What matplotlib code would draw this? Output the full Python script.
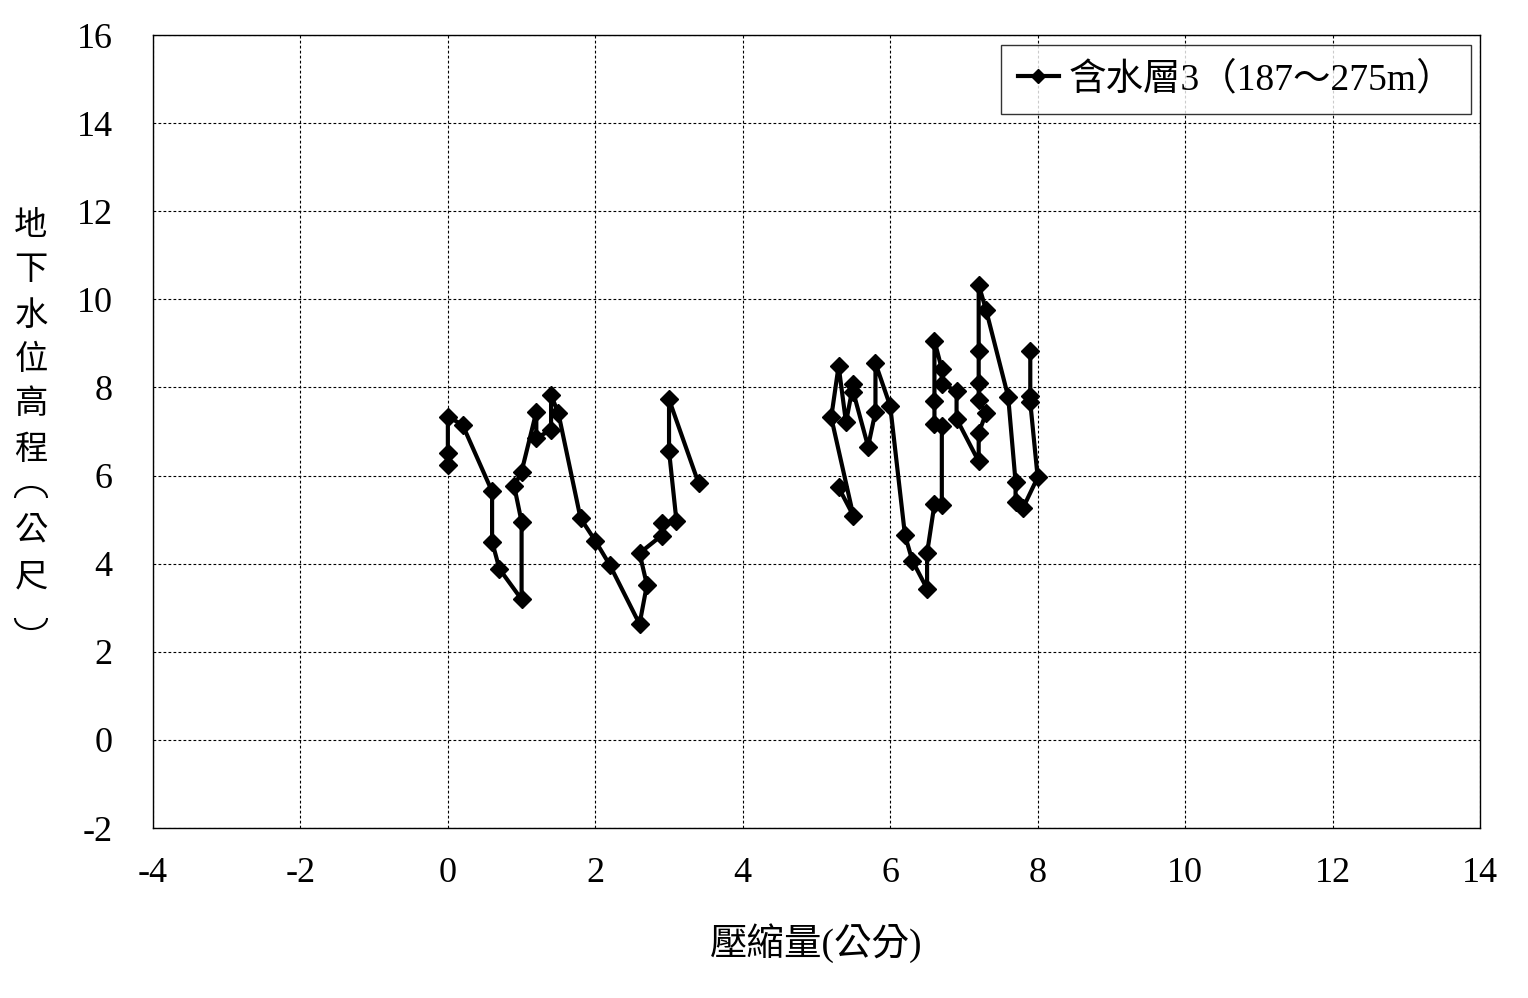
import numpy as np
import matplotlib
matplotlib.use("Agg")
import matplotlib.pyplot as plt
from matplotlib.patches import Arc

plt.rcParams['font.family'] = ['Liberation Serif', 'Noto Sans CJK TC']
plt.rcParams['axes.unicode_minus'] = False

# compression (cm) and groundwater level (m); NaN marks the gap between the two runs
compression = [0.0, 0.0, 0.0, 0.2, 0.6, 0.6, 0.7, 1.0, 1.0, 0.9, 1.0, 1.2, 1.2, 1.4,
               1.4, 1.5, 1.8, 2.0, 2.2, 2.6, 2.7, 2.6, 2.9, 2.9, 3.1, 3.0, 3.0, 3.4,
               np.nan,
               5.3, 5.5, 5.2, 5.3, 5.4, 5.5, 5.5, 5.7, 5.8, 5.8, 6.0, 6.2, 6.3, 6.5,
               6.5, 6.6, 6.7, 6.7, 6.6, 6.6, 6.6, 6.7, 6.7, 6.9, 6.9, 7.2, 7.2, 7.3,
               7.2, 7.2, 7.2, 7.2, 7.3, 7.6, 7.7, 7.7, 7.8, 8.0, 7.9, 7.9, 7.9]
level = [6.24, 6.51, 7.34, 7.15, 5.64, 4.50, 3.88, 3.19, 4.95, 5.76, 6.09, 7.45, 6.85, 7.04,
         7.83, 7.41, 5.03, 4.52, 3.96, 2.63, 3.52, 4.24, 4.64, 4.92, 4.98, 6.56, 7.73, 5.83,
         np.nan,
         5.73, 5.09, 7.32, 8.49, 7.21, 8.08, 7.89, 6.66, 7.45, 8.55, 7.58, 4.65, 4.07, 3.43,
         4.24, 5.35, 5.33, 7.13, 7.16, 7.69, 9.06, 8.42, 8.08, 7.92, 7.29, 6.32, 6.96, 7.42,
         7.72, 8.10, 8.82, 10.33, 9.76, 7.79, 5.86, 5.40, 5.26, 5.96, 7.66, 7.81, 8.83]

series_name = "含水層3（187～275m）"
x_label = "壓縮量(公分)"
y_label_chars = ["地", "下", "水", "位", "高", "程", "(", "公", "尺", ")"]

W, H = 1528, 998
fig = plt.figure(figsize=(W / 100, H / 100), dpi=100)
ax = fig.add_axes([0.1001, 0.1703, 0.8685, 0.7946])

ax.plot(compression, level, color='black', linewidth=3, marker='D',
        markersize=9, label=series_name)

ax.set_xlim(-4, 14)
ax.set_ylim(-2, 16)
ax.set_xticks(np.arange(-4, 15, 2))
ax.set_yticks(np.arange(-2, 17, 2))
ax.grid(True, color='black', linestyle=(0, (2.5, 2)), linewidth=0.8)
ax.tick_params(axis='both', labelsize=26, length=0)
ax.tick_params(axis='y', pad=29)
ax.tick_params(axis='x', pad=21)
for s in ax.spines.values():
    s.set_linewidth(1)

ax.set_xlabel(x_label, fontsize=27, labelpad=24)

# vertical y label, one character per line; brackets drawn as sideways arcs
ypix = [225, 270, 315, 360, 404, 449, 493, 530, 577, 623]
xc = 31 / W
for ch, yp in zip(y_label_chars, ypix):
    if ch == "(":
        fig.patches.append(Arc((xc, 1 - (yp + 5) / H), 32 / W, 22 / H, theta1=0, theta2=180,
                               transform=fig.transFigure, color='black', linewidth=1.5))
    elif ch == ")":
        fig.patches.append(Arc((xc, 1 - (yp - 5) / H), 32 / W, 22 / H, theta1=180, theta2=360,
                               transform=fig.transFigure, color='black', linewidth=1.5))
    else:
        fig.text(xc, 1 - yp / H, ch, fontsize=24, ha='center', va='center',
                 family=['Noto Sans CJK TC'])

leg = ax.legend(loc='upper right', fontsize=27, frameon=True, fancybox=False,
                edgecolor='black', handlelength=1.1, handletextpad=0.25,
                borderpad=0.45, borderaxespad=0, markerscale=0.8,
                bbox_to_anchor=(0.993, 0.988))
leg.get_frame().set_linewidth(1)

fig.savefig("out.png", dpi=100, facecolor='white')
